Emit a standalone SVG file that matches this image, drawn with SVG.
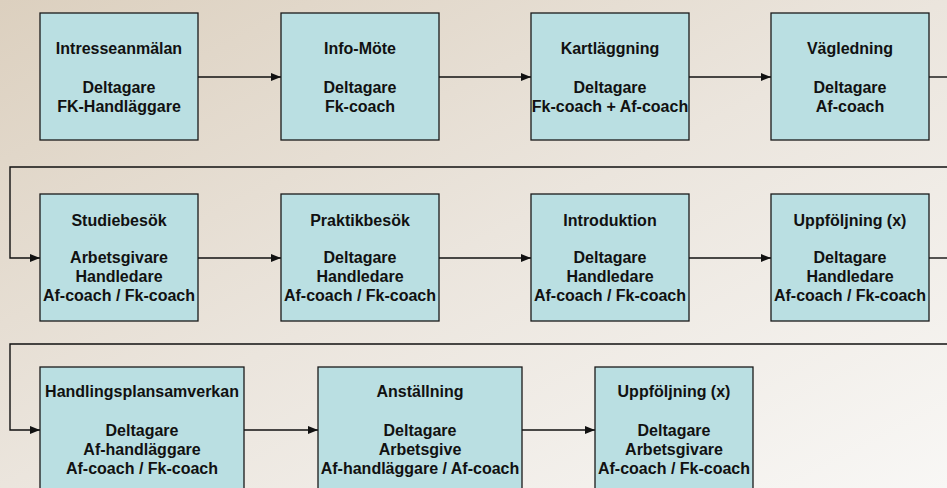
<svg xmlns="http://www.w3.org/2000/svg" width="947" height="488" viewBox="0 0 947 488">
<defs>
<linearGradient id="bg" x1="0" y1="0" x2="1" y2="1">
<stop offset="0" stop-color="#dcd0bf"/>
<stop offset="0.5" stop-color="#ebe5dd"/>
<stop offset="1" stop-color="#f8f7f5"/>
</linearGradient>
<marker id="ah" viewBox="0 0 10 8" refX="10" refY="4" markerWidth="10" markerHeight="8" markerUnits="userSpaceOnUse" orient="auto">
<path d="M0,0 L10,4 L0,8 Z" fill="#111"/>
</marker>
<style>
.box{fill:#badfe2;stroke:#1a1a1a;stroke-width:1.3}
.t{font-family:"Liberation Sans",Arial,sans-serif;font-weight:bold;font-size:16px;fill:#111;text-anchor:middle}
.c{fill:none;stroke:#111;stroke-width:1.4}
</style>
</defs>
<rect x="0" y="0" width="947" height="488" fill="url(#bg)"/>
<g id="connectors">
<line class="c" x1="198" y1="77" x2="281" y2="77" marker-end="url(#ah)"/>
<line class="c" x1="439" y1="77" x2="531" y2="77" marker-end="url(#ah)"/>
<line class="c" x1="689" y1="77" x2="771" y2="77" marker-end="url(#ah)"/>
<line class="c" x1="929" y1="77" x2="948" y2="77"/>
<polyline class="c" points="948,167 10,167 10,258 40,258" marker-end="url(#ah)"/>
<line class="c" x1="198" y1="258" x2="281" y2="258" marker-end="url(#ah)"/>
<line class="c" x1="439" y1="258" x2="531" y2="258" marker-end="url(#ah)"/>
<line class="c" x1="689" y1="258" x2="771" y2="258" marker-end="url(#ah)"/>
<line class="c" x1="929" y1="258" x2="948" y2="258"/>
<polyline class="c" points="948,344 10,344 10,430 40,430" marker-end="url(#ah)"/>
<line class="c" x1="244" y1="430" x2="318" y2="430" marker-end="url(#ah)"/>
<line class="c" x1="522" y1="430" x2="595" y2="430" marker-end="url(#ah)"/>
</g>
<g id="n1"><rect class="box" x="40" y="13" width="158" height="127"/>
<text class="t" x="119" y="54">Intresseanmälan</text><text class="t" x="119" y="93">Deltagare</text><text class="t" x="119" y="112">FK-Handläggare</text></g>
<g id="n2"><rect class="box" x="281" y="13" width="158" height="127"/>
<text class="t" x="360" y="54">Info-Möte</text><text class="t" x="360" y="93">Deltagare</text><text class="t" x="360" y="112">Fk-coach</text></g>
<g id="n3"><rect class="box" x="531" y="13" width="158" height="127"/>
<text class="t" x="610" y="54">Kartläggning</text><text class="t" x="610" y="93">Deltagare</text><text class="t" x="610" y="112">Fk-coach + Af-coach</text></g>
<g id="n4"><rect class="box" x="771" y="13" width="158" height="127"/>
<text class="t" x="850" y="54">Vägledning</text><text class="t" x="850" y="93">Deltagare</text><text class="t" x="850" y="112">Af-coach</text></g>
<g id="n5"><rect class="box" x="40" y="194" width="158" height="127"/>
<text class="t" x="119" y="226">Studiebesök</text><text class="t" x="119" y="263">Arbetsgivare</text><text class="t" x="119" y="282">Handledare</text><text class="t" x="119" y="301">Af-coach / Fk-coach</text></g>
<g id="n6"><rect class="box" x="281" y="194" width="158" height="127"/>
<text class="t" x="360" y="226">Praktikbesök</text><text class="t" x="360" y="263">Deltagare</text><text class="t" x="360" y="282">Handledare</text><text class="t" x="360" y="301">Af-coach / Fk-coach</text></g>
<g id="n7"><rect class="box" x="531" y="194" width="158" height="127"/>
<text class="t" x="610" y="226">Introduktion</text><text class="t" x="610" y="263">Deltagare</text><text class="t" x="610" y="282">Handledare</text><text class="t" x="610" y="301">Af-coach / Fk-coach</text></g>
<g id="n8"><rect class="box" x="771" y="194" width="158" height="127"/>
<text class="t" x="850" y="226">Uppföljning (x)</text><text class="t" x="850" y="263">Deltagare</text><text class="t" x="850" y="282">Handledare</text><text class="t" x="850" y="301">Af-coach / Fk-coach</text></g>
<g id="n9"><rect class="box" x="40" y="367" width="204" height="130"/>
<text class="t" x="142" y="397">Handlingsplansamverkan</text><text class="t" x="142" y="436">Deltagare</text><text class="t" x="142" y="455">Af-handläggare</text><text class="t" x="142" y="474">Af-coach / Fk-coach</text></g>
<g id="n10"><rect class="box" x="318" y="367" width="204" height="130"/>
<text class="t" x="420" y="397">Anställning</text><text class="t" x="420" y="436">Deltagare</text><text class="t" x="420" y="455">Arbetsgive</text><text class="t" x="420" y="474">Af-handläggare / Af-coach</text></g>
<g id="n11"><rect class="box" x="595" y="367" width="158" height="130"/>
<text class="t" x="674" y="397">Uppföljning (x)</text><text class="t" x="674" y="436">Deltagare</text><text class="t" x="674" y="455">Arbetsgivare</text><text class="t" x="674" y="474">Af-coach / Fk-coach</text></g>
</svg>
